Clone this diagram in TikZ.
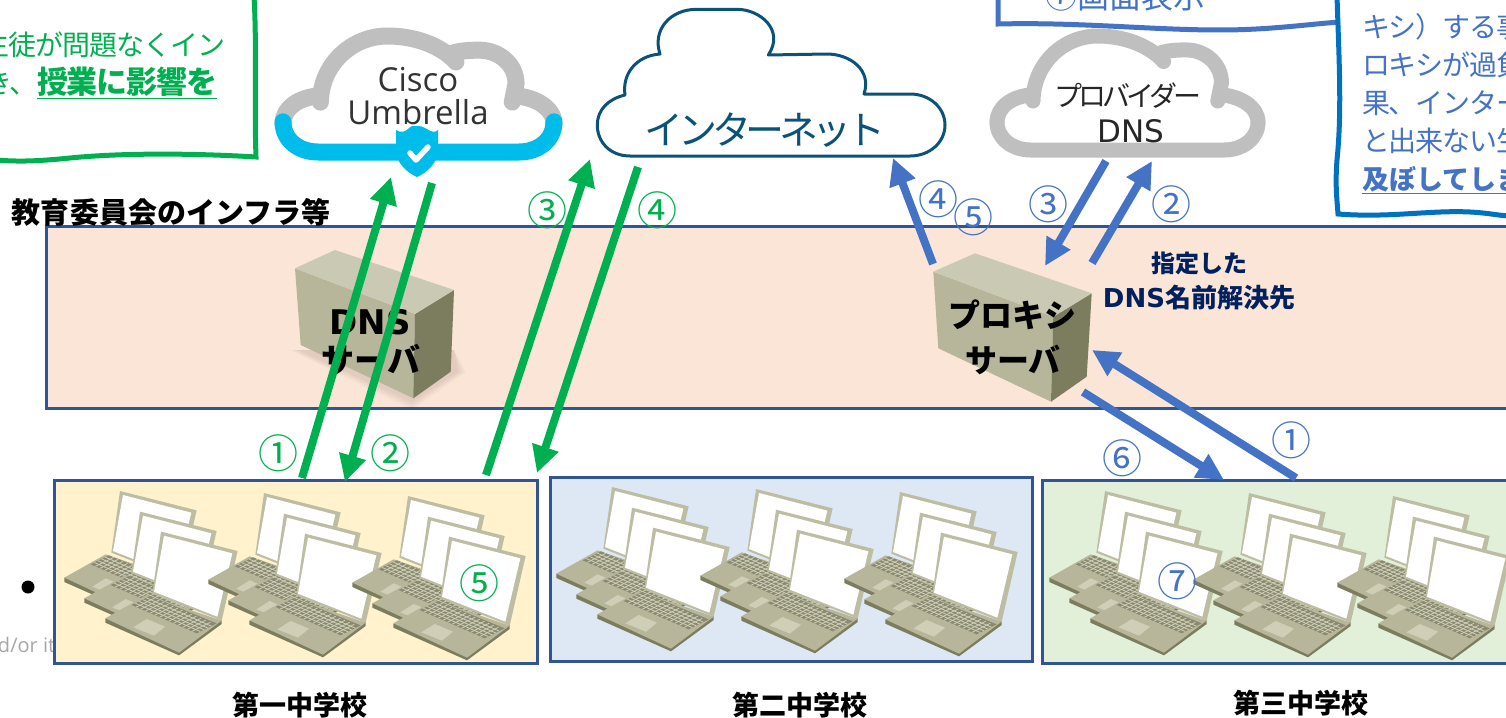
\documentclass[tikz,border=0pt]{standalone}
\usepackage{fontspec}
\setmainfont{Noto Sans CJK JP}
\newfontfamily\dvb{DejaVu Sans}
\newfontfamily\opn{Open Sans}
\usetikzlibrary{arrows.meta}
\definecolor{pgreen}{HTML}{00B050}
\definecolor{pblue}{HTML}{4472C4}
\definecolor{pdeep}{HTML}{0070C0}
\definecolor{pframe}{HTML}{2F5597}
\definecolor{ppink}{HTML}{FBE5D6}
\definecolor{pyel}{HTML}{FFF2CC}
\definecolor{pbl}{HTML}{DEE8F4}
\definecolor{pgr}{HTML}{E2F0D9}
\definecolor{pteal}{HTML}{0A5378}
\definecolor{pcloud}{HTML}{BFBFBF}
\definecolor{psky}{HTML}{00BCEB}
\definecolor{pnavy}{HTML}{002060}
\definecolor{ltop}{HTML}{CAC9B4}
\definecolor{lleft}{HTML}{B7B69B}
\definecolor{lright}{HTML}{7C7C5E}
\definecolor{lkey}{HTML}{8A8A72}
\definecolor{lkeyl}{HTML}{CFCFB8}
\definecolor{lframe}{HTML}{BDBDA4}
\tikzset{
  txt/.style={inner sep=0pt,outer sep=0pt},
  fz/.style={font=\fontsize{#1}{#1}\selectfont},
  site/.style={draw=pframe,line width=3pt},
  cloudline/.style={draw=pcloud,line width=15pt,line cap=round,line join=round},
  skyline/.style={draw=psky,line width=17pt,line cap=round,line join=round},
  garrow/.style={draw=pgreen,line width=8pt,-{Triangle[length=27pt,width=26pt]}},
  barrow/.style={draw=pblue,line width=8pt,-{Triangle[length=27pt,width=26pt]}},
  gnum/.style={txt,fz=40,text=pgreen},
  bnum/.style={txt,fz=40,text=pblue},
  gtext/.style={txt,font=\fontsize{28}{28}\selectfont\addfontfeature{LetterSpace=-4},text=pgreen,anchor=east},
  btext/.style={txt,font=\fontsize{28}{28}\selectfont\addfontfeature{LetterSpace=-4},text=pblue,anchor=west},
  school/.style={txt,font=\bfseries\fontsize{27}{27}\selectfont},
}
\newcommand\lap{%
  \fill[lright] (316,445)--(316,458)--(537,556)--(665,462)--(665,450)--cycle;
  \fill[lleft] (316,445)--(440,375)--(665,452)--(537,548)--cycle;
  \fill[lframe] (483,185)--(713,243)--(665,452)--(457,370)--cycle;
  \fill[white] (492,197)--(697,250)--(652,440)--(462,365)--cycle;
  \fill[lkey] (395,405)--(450,378)--(650,460)--(590,490)--cycle;
  \foreach \t in {1,...,13}{\draw[lkeyl,line width=.8pt] ({395+195*\t/14},{405+85*\t/14}) -- ++(55,-27);}
  \foreach \t in {1,2,3,4}{\draw[lkeyl,line width=.8pt] ({395+55*\t/5},{405-27*\t/5}) -- ++(195,85);}
  \fill[lkeyl] (400,472)--(440,447)--(495,470)--(462,497)--cycle;
}
\newcommand\trio[2]{%
  \begin{scope}[shift={(#1,#2)},x=.33333pt,y=-.33333pt]
    \begin{scope}[shift={(-123,-122)}]\lap\end{scope}
    \begin{scope}[shift={(-63,-60)}]\lap\end{scope}
    \lap
  \end{scope}}
\newcommand\cloudupper{%
  (0,75.6) .. controls (0,62) and (6,52.5) .. (13.8,51.5)
  (13.8,57) .. controls (14,24) and (25.6,0) .. (38.5,0)
  .. controls (51,0) and (60,12) .. (63.8,22.4)
  (61.5,16) .. controls (64,13) and (68,12.2) .. (72.4,12.2)
  .. controls (80,12.2) and (86,25) .. (86,41) -- (84.6,57)
  (85.3,51.5) .. controls (93,52.5) and (100,62) .. (100,75.6)}
\begin{document}
\begin{tikzpicture}[x=1pt,y=-1pt]
\useasboundingbox (0,0) rectangle (1506,717);
\clip (0,0) rectangle (1506,717);
\fill[white] (0,0) rectangle (1506,717);

% stray slide remnants
\node[txt,fz=20,text=black!35,anchor=west] (stray) at (-2,645) {\opn d/or it};
\fill[black] (28,587) circle (6.5pt);

% main bands
\draw[site,fill=ppink] (46,226) rectangle (1520,408);
\draw[site,fill=pyel] (54,480) rectangle (537,663);
\draw[site,fill=pbl] (550,477) rectangle (1032,661);
\draw[site,fill=pgr] (1042,480) rectangle (1520,663);

% laptops
\foreach \dx/\dy in {0/470,144/472,288/475,492/466,636/468,780/471,985/470,1129/472,1273/475}{\trio{\dx}{\dy}}

% notes
\draw[pgreen,line width=5pt,line join=miter] (254,-4) .. controls (257,50) and (254,100) .. (256,157)
  .. controls (190,153) and (120,153) .. (70,158) .. controls (40,161) and (20,162) .. (-4,160);
\node[gtext] (n1) at (225,45) {生徒が問題なくイン};
\node[gtext] (n2) at (217,83) {き、\underline{\bfseries\fontsize{31}{31}\selectfont 授業に影響を}};

\draw[pblue,line width=5pt] (998,-4) -- (998,24)
  .. controls (1080,22) and (1150,30) .. (1220,30) .. controls (1270,30) and (1310,24) .. (1340,22);
\node[txt,fz=32,text=pblue] (n3) at (1125,-4) {⑦画面表示};
\draw[pdeep,line width=5pt] (1337,-4) .. controls (1339,60) and (1342,110) .. (1337,160)
  .. controls (1335,185) and (1337,200) .. (1338,214)
  .. controls (1390,218) and (1430,210) .. (1470,212) .. controls (1490,213) and (1500,216) .. (1512,216);
\node[btext] (n4) at (1362,27) {キシ）する事};
\node[btext] (n5) at (1362,65) {ロキシが過負};
\node[btext] (n6) at (1362,103) {果、インター};
\node[btext] (n7) at (1362,141) {と出来ない生};
\node[btext,font=\bfseries\fontsize{27}{27}\selectfont] (n8) at (1362,180) {\underline{及ぼしてしま}};

% Cisco Umbrella cloud
\begin{scope}[shift={(283,36)},x=2.71pt,y=-1.16pt]
  \draw[cloudline,line width=17pt] \cloudupper;
  \draw[skyline] (0,74) .. controls (0,90) and (6,100) .. (12.8,100) -- (87.2,100) .. controls (94,100) and (100,90) .. (100,74);
\end{scope}
\begin{scope}[shift={(2,0)}]
\fill[psky] (394,130) .. controls (399,133) and (403,132) .. (406,129) .. controls (409,126) .. (415,126)
  .. controls (419,126) .. (425,129) .. controls (429,132) and (433,133) .. (436,130)
  -- (436,155) .. controls (432,166) and (424,173) .. (415,177) .. controls (406,173) and (398,166) .. (394,155) -- cycle;
\draw[white,line width=5.5pt,line cap=round,line join=round] (408,153) -- (414,160) -- (426,147);
\end{scope}
\node[txt,fz=33,text=black!80] (c1) at (418,80) {\opn Cisco};
\node[txt,fz=33,text=black!80] (c2) at (418,112) {\opn Umbrella};

% Internet cloud
\draw[pteal,line width=3pt,line join=round,fill=white]
  (630,156) .. controls (610,156) and (597.3,142) .. (597.3,125)
  .. controls (597.3,110) and (608,99) .. (625,95)
  .. controls (622,75) and (635,56) .. (660,54)
  .. controls (652,30) and (670,9.3) .. (696.7,9.3) -- (736.7,9.3)
  .. controls (760,9.3) and (785,30) .. (768.3,55) -- (826.7,54)
  .. controls (850,54) and (872,70) .. (864,94) -- (910,94)
  .. controls (930,94) and (945,108) .. (945,125)
  .. controls (945,142) and (930,156) .. (910,156) -- cycle;
\node[txt,font=\fontsize{39}{39}\selectfont\addfontfeature{LetterSpace=-14},text=pteal] (c3) at (765,130) {インターネット};

% Provider cloud
\begin{scope}[shift={(997,36)},x=2.61pt,y=-1.14pt]
  \draw[cloudline] \cloudupper;
  \draw[cloudline] (0,75.6) .. controls (0,90) and (6,100) .. (12.8,100) -- (87.2,100) .. controls (94,100) and (100,90) .. (100,75.6);
\end{scope}
\node[txt,font=\fontsize{28}{28}\selectfont\addfontfeature{LetterSpace=-14},text=black!85] (c4) at (1128,96) {プロバイダー};
\node[txt,font=\dvb\fontsize{31}{31}\selectfont,text=black!85] (c5) at (1131,131) {DNS};

\node[txt,font=\bfseries\fontsize{29}{29}\selectfont,anchor=west] (t1) at (12,212) {教育委員会のインフラ等};

% DNS server
\foreach \g in {0,2,4,6,8}{\fill[black,opacity=.018] (298-\g,350) -- (412,402+\g) -- (458+\g,372) -- (454,350) -- cycle;}
\fill[lleft] (295,268.3) -- (415,314) -- (413.3,398.3) -- (300.7,345) -- cycle;
\fill[lright] (415,314) -- (454,290) -- (450.7,371.7) -- (413.3,398.3) -- cycle;
\fill[ltop] (335,250) -- (454,290) -- (415,314) -- (295,268.3) -- cycle;
\node[txt,font=\dvb\bfseries\fontsize{34}{34}\selectfont] (d1) at (370,322) {DNS};
\node[txt,font=\bfseries\fontsize{33}{33}\selectfont] (d2) at (371,360) {サーバ};

% proxy
\fill[lleft] (933.3,271.7) -- (1053.3,316.7) -- (1051,401.7) -- (938.3,348.3) -- cycle;
\fill[lright] (1053.3,316.7) -- (1091.7,293.3) -- (1086.7,376.7) -- (1051,401.7) -- cycle;
\fill[ltop] (975,253.3) -- (1091.7,293.3) -- (1053.3,316.7) -- (933.3,271.7) -- cycle;
\node[txt,font=\bfseries\fontsize{32}{32}\selectfont] (p1) at (1012,315) {プロキシ};
\node[txt,font=\bfseries\fontsize{32}{32}\selectfont] (p2) at (1013,360) {サーバ};

\node[txt,font=\bfseries\fontsize{24}{24}\selectfont,text=pnavy] (l1) at (1199,263) {指定した};
\node[txt,font=\bfseries\fontsize{26}{26}\selectfont,text=pnavy] (l2) at (1199,298) {{\dvb DNS}名前解決先};

% school names
\node[school] (s1) at (300,705) {第一中学校};
\node[school] (s2) at (800,705) {第二中学校};
\node[school] (s3) at (1301,703) {第三中学校};

% arrow end points
\coordinate (ga1) at (302,478); \coordinate (ga2) at (391,177);
\coordinate (gb1) at (432,183); \coordinate (gb2) at (345,482);
\coordinate (gc1) at (486,475); \coordinate (gc2) at (590,159);
\coordinate (gd1) at (638,167); \coordinate (gd2) at (537,473);
\coordinate (ba1) at (933,264); \coordinate (ba2) at (893,158);
\coordinate (bb1) at (1106,161); \coordinate (bb2) at (1045,266);
\coordinate (bc1) at (1092,263); \coordinate (bc2) at (1152,161);
\coordinate (bd1) at (1296,478); \coordinate (bd2) at (1092,350);
\coordinate (be1) at (1083,392); \coordinate (be2) at (1224,480);

\draw[garrow] (ga1) -- (ga2);
\draw[garrow] (gb1) -- (gb2);
\draw[garrow] (gc1) -- (gc2);
\draw[garrow] (gd1) -- (gd2);
\draw[barrow] (ba1) -- (ba2);
\draw[barrow] (bb1) -- (bb2);
\draw[barrow] (bc1) -- (bc2);
\draw[barrow] (bd1) -- (bd2);
\draw[barrow] (be1) -- (be2);

% step numbers
\node[gnum] (g1) at (278,453) {①};
\node[gnum] (g2) at (390,453) {②};
\node[gnum] (g3) at (547,210) {③};
\node[gnum] (g4) at (657,210) {④};
\node[gnum] (g5) at (479,583) {⑤};
\node[bnum] (b4) at (938,199) {④};
\node[bnum] (b5) at (973,217) {⑤};
\node[bnum] (b3) at (1048,204) {③};
\node[bnum] (b2) at (1171,204) {②};
\node[bnum] (b1) at (1291,440) {①};
\node[bnum] (b6) at (1122,458) {⑥};
\node[bnum] (b7) at (1177,581) {⑦};
\end{tikzpicture}
\end{document}
